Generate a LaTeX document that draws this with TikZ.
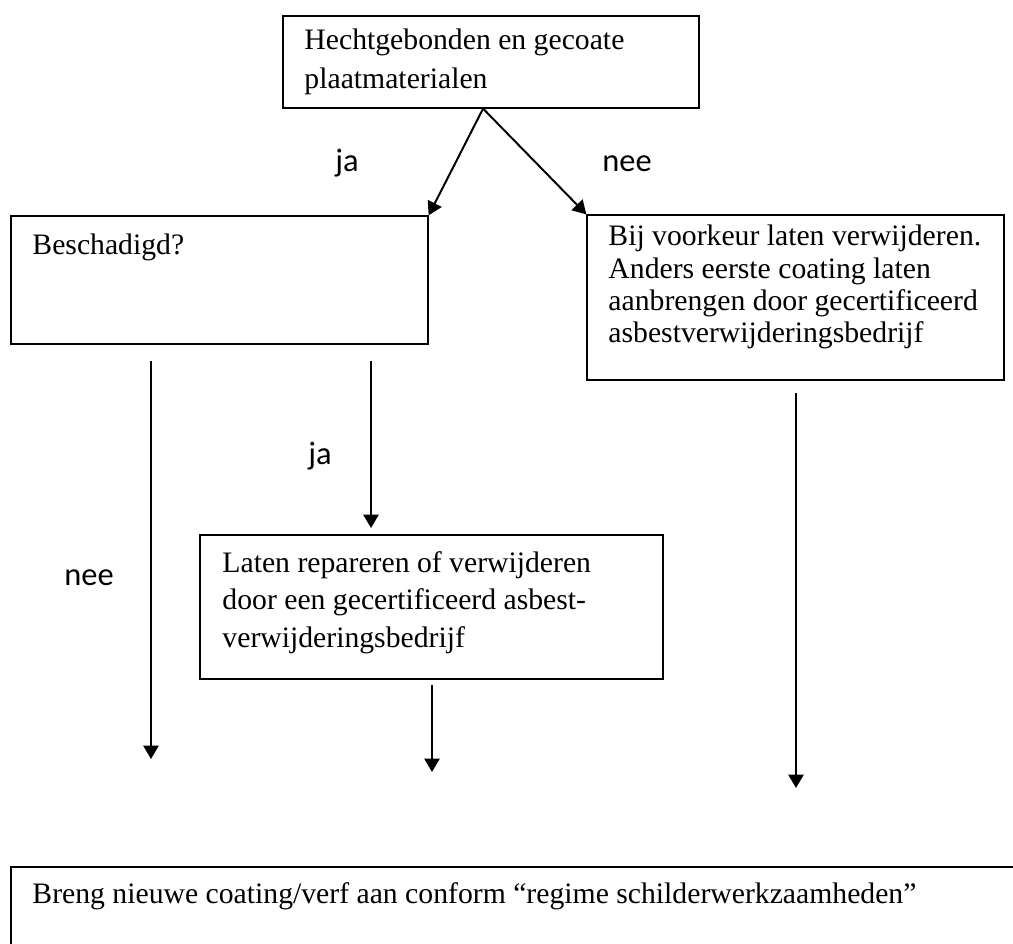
\documentclass[tikz,border=0pt]{standalone}
\usepackage{fontspec}
\setmainfont{Liberation Serif}
\newfontfamily\labelfont{Carlito}
\usetikzlibrary{arrows.meta,fit,calc}
\newcommand\boxlines[2]{\vtop{\baselineskip=#1\relax #2}}
\begin{document}
\begin{tikzpicture}[x=0.431pt,y=-0.431pt,
  box/.style={draw, line width=0.55pt, inner sep=0pt},
  txt/.style={anchor=base west, inner sep=0pt, font=\fontsize{12.8}{15}\selectfont},
  lbl/.style={anchor=base, inner sep=0pt, font=\labelfont\fontsize{14}{16}\selectfont},
  arr/.style={line width=0.85pt, -{Triangle[length=5.8pt,width=6.6pt]}}]
\useasboundingbox (0,0) rectangle (1013,944);
% boxes
\node[box, fit={(283,16)(699,108)}] (top) {};
\node[box, fit={(11,216)(428,344)}] (besch) {};
\node[box, fit={(587,215)(1004,380)}] (advies) {};
\node[box, fit={(200,535)(663,679)}] (laten) {};
\node[box, line width=0.8pt, fit={(11,867)(1040,970)}] (bottom) {};
% texts
\node[txt] (ttop) at (304,50)
  {\boxlines{16.4pt}{\hbox{Hechtgebonden en gecoate}\hbox{plaatmaterialen}}};
\node[txt] (tbesch) at (32,255) {Beschadigd?};
\node[txt] (tadvies) at (608,246)
  {\boxlines{13.9pt}{\hbox{Bij voorkeur laten verwijderen.}\hbox{Anders eerste coating laten}\hbox{aanbrengen door gecertificeerd}\hbox{asbestverwijderingsbedrijf}}};
\node[txt] (tlaten) at (222,572)
  {\boxlines{16.2pt}{\hbox{Laten repareren of verwijderen}\hbox{door een gecertificeerd asbest-}\hbox{verwijderingsbedrijf}}};
\node[txt] (tbottom) at (32,903)
  {Breng nieuwe coating/verf aan conform “regime schilderwerkzaamheden”};
% labels
\node[lbl] (lja1) at (347,172) {ja};
\node[lbl] (lnee1) at (627,172) {nee};
\node[lbl] (lja2) at (320,465) {ja};
\node[lbl] (lnee2) at (89,585) {nee};
% free ends
\coordinate (split) at ($(top.south west)!0.481!(top.south east)$);
\coordinate (neeA) at (151,361);
\coordinate (neeB) at (151,759);
\coordinate (jaA) at (371,361);
\coordinate (jaB) at (371,528);
\coordinate (latA) at (432,685);
\coordinate (latB) at (432,772);
\coordinate (advA) at (796,393);
\coordinate (advB) at (796,788);
% connectors
\draw[arr] (split) -- (besch.north east);
\draw[arr] (split) -- (advies.north west);
\draw[arr] (neeA) -- (neeB);
\draw[arr] (jaA) -- (jaB);
\draw[arr] (latA) -- (latB);
\draw[arr] (advA) -- (advB);
\end{tikzpicture}
\end{document}
